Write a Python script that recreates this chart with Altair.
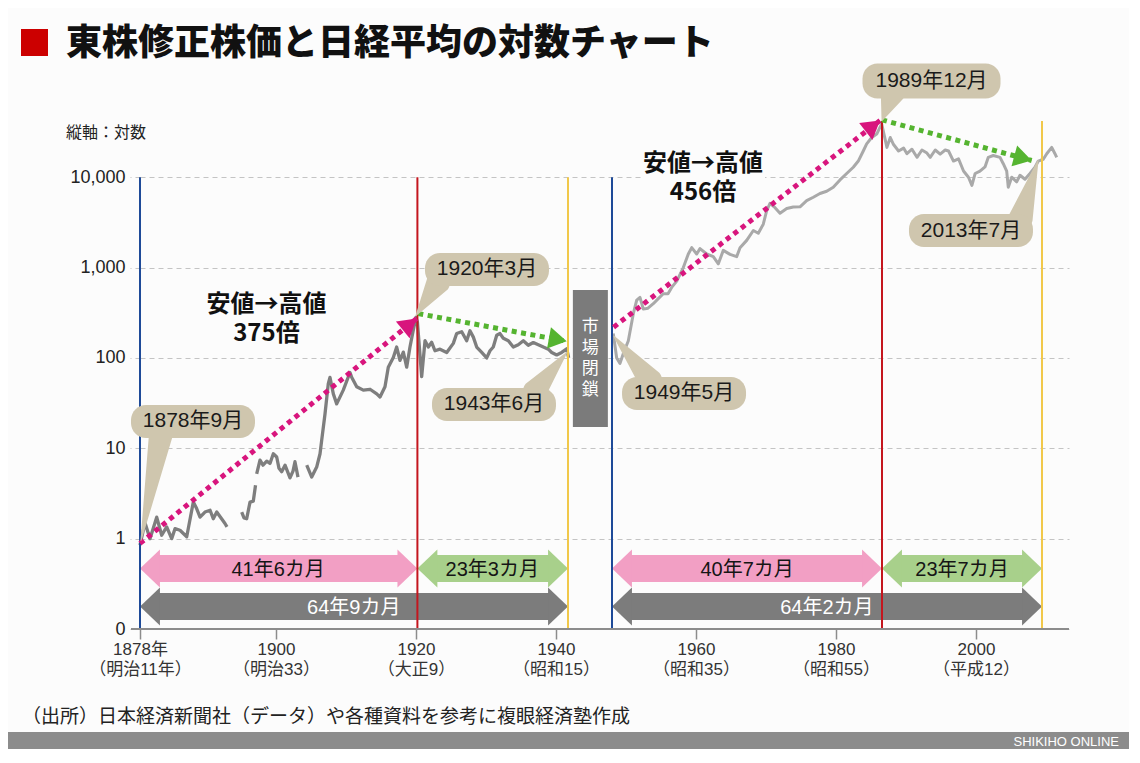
import altair as alt
import pandas as pd

FONT = "Noto Sans CJK JP"
MIX = "Liberation Sans, Noto Sans CJK JP"
BG = "#fcfcfc"

TITLE = "東株修正株価と日経平均の対数チャート"
AXIS_NOTE = "縦軸：対数"
SOURCE = "（出所）日本経済新聞社（データ）や各種資料を参考に複眼経済塾作成"
BRAND = "SHIKIHO ONLINE"

# non-uniform time axis of the original graphic (year -> plot px)
X_ANCHOR_YEARS = [1878.75, 1900, 1940, 1943.5, 1949.4, 1960, 1980, 1989.9, 2000, 2013.5, 2016]
X_ANCHOR_PX = [0, 136, 416, 428, 472, 556, 696, 742, 836, 902, 929]

Y_TICKS = [0.1, 1, 10, 100, 1000, 10000]
X_TICKS = [1878.75, 1900, 1920, 1940, 1960, 1980, 2000]
X_LAB1 = ["1878年", "1900", "1920", "1940", "1960", "1980", "2000"]
X_LAB2 = ["（明治11年）", "（明治33）", "（大正9）", "（昭和15）", "（昭和35）", "（昭和55）", "（平成12）"]

# ---- 東株修正株価 (prewar), segments separated by data gaps ----
PRE_YEARS = [
    1878.75, 1879.53, 1880.31, 1881.36, 1882.14, 1882.92, 1883.7, 1884.22, 1885.0, 1886.05,
    1887.08, 1887.6, 1888.13, 1888.9, 1889.7, 1890.2, 1890.74, 1891.5, 1892.03, 1892.34,
    1894.64, 1895.0, 1895.42, 1895.94, 1896.45, 1896.8,
    1896.98, 1897.5, 1897.97, 1898.55, 1899.06, 1899.58, 1900.1, 1900.43, 1900.81, 1901.29,
    1902.0, 1902.43, 1902.71, 1903.14,
    1904.39, 1905.1, 1905.81, 1906.29, 1906.53, 1907.0, 1907.47, 1907.71, 1908.19, 1908.67,
    1909.61, 1910.57, 1910.81, 1911.53, 1912.47, 1913.43, 1914.39, 1914.86, 1915.57, 1916.04,
    1916.76, 1917.24, 1917.71, 1918.19, 1918.67, 1919.14, 1919.61, 1920.0, 1920.2, 1920.81,
    1921.29, 1921.76, 1922.24, 1922.71, 1923.43, 1924.39, 1925.33, 1925.81, 1926.53, 1927.24,
    1927.71, 1928.19, 1928.67, 1929.39, 1930.1, 1930.57, 1931.04, 1931.53, 1932.0, 1932.47,
    1933.19, 1933.9, 1934.61, 1935.33, 1936.04, 1936.76, 1937.47, 1938.19, 1938.9, 1939.39,
    1940.2, 1941.66, 1943.12, 1943.59,
]
PRE_VALUES = [
    0.85, 1.5, 1.0, 1.73, 1.09, 1.35, 1.0, 1.29, 1.24, 1.05,
    2.54, 2.15, 1.73, 1.97, 2.06, 1.66, 1.97, 1.66, 1.47, 1.35,
    1.97, 1.7, 1.66, 2.54, 2.6, 3.9,
    5.2, 7.4, 6.5, 7.2, 6.8, 8.7, 8.0, 6.0, 5.5, 6.5,
    4.7, 5.6, 7.1, 4.8,
    6.5, 4.8, 6.2, 8.7, 12.3, 24, 52, 61, 40, 31,
    44, 69, 61, 48, 44, 45, 40, 37, 48, 79,
    101, 132, 94, 116, 79, 132, 203, 280, 250, 62,
    155, 132, 149, 120, 125, 115, 145, 186, 195, 155,
    200, 170, 132, 115, 100, 120, 132, 178, 186, 165,
    155, 132, 140, 155, 138, 148, 140, 132, 125, 115,
    108, 115, 126, 100,
]
PRE_SEG = [1] * 20 + [2] * 6 + [3] * 14 + [4] * 64

# ---- 日経平均 (postwar) ----
POST_YEARS = [
    1949.56, 1949.99, 1950.41, 1950.83, 1951.46, 1952.09, 1952.52, 1952.93, 1953.35, 1953.94,
    1954.61, 1955.21, 1955.87, 1956.47, 1956.93, 1957.57, 1958.4, 1959.03, 1959.46, 1960.1,
    1960.57, 1961.53, 1962.47, 1963.19, 1963.9, 1964.86, 1965.81, 1966.29, 1967.24, 1968.19,
    1968.9, 1969.61, 1970.1, 1970.57, 1971.29, 1972.0, 1972.96, 1973.9, 1974.86, 1975.81,
    1976.76, 1977.71, 1978.67, 1979.61, 1980.86, 1982.3, 1983.72, 1984.8, 1985.87, 1986.6,
    1987.68, 1988.76, 1989.83, 1990.43, 1990.79, 1991.14, 1991.68, 1992.22, 1992.58, 1993.12,
    1993.66, 1994.19, 1994.73, 1995.08, 1995.62, 1996.15, 1996.69, 1997.05, 1997.58, 1998.12,
    1998.66, 1999.19, 1999.56, 1999.91, 2000.82, 2001.84, 2002.52, 2003.54, 2004.91, 2005.58,
    2006.28, 2006.6, 2007.3, 2008.32, 2009.0, 2010.02, 2011.04, 2012.07, 2012.74, 2013.62,
    2013.94, 2014.4, 2014.7, 2014.86,
]
POST_VALUES = [
    186, 100, 87, 112, 155, 309, 437, 468, 347, 355,
    398, 450, 513, 513, 603, 708, 1000, 1413, 1660, 1413,
    1620, 1413, 1320, 1100, 1550, 1400, 1320, 1660, 2000, 2570,
    2400, 3020, 4270, 5130, 4600, 4000, 4500, 4680, 4700, 5500,
    6000, 6600, 7000, 7760, 9330, 11000, 12900, 15100, 19500, 23400,
    27500, 30000, 38900, 21400, 27500, 23000, 19500, 21000, 18200, 20400,
    16600, 20000, 18500, 16600, 20000, 18000, 20000, 19500, 15100, 16000,
    11700, 10000, 8130, 11000, 11700, 13000, 16600, 17400, 16600, 14100,
    11700, 7760, 10000, 8900, 10500, 9500, 11000, 12900, 15100, 15800,
    18200, 21400, 18200, 16600,
]

# ---- event (vertical) lines ----
EV_YEARS = [1878.75, 1920.2, 1943.5, 1949.4, 1989.9, 2013.5]
EV_KIND = ["low", "high", "end", "low", "high", "end"]
EV_TOP = [10000, 10000, 10000, 10000, 42000, 42000]

# ---- duration arrows ----
DUR_START = [1878.75, 1920.2, 1878.75, 1949.4, 1989.9, 1949.4]
DUR_END = [1920.2, 1943.5, 1943.5, 1989.9, 2013.5, 2013.5]
DUR_MID = [1900.3, 1930.9, 1911.1, 1967.3, 1998.5, 1978.7]
DUR_KIND = ["rise", "fall", "total", "rise", "fall", "total"]
DUR_LABEL = ["41年6カ月", "23年3カ月", "64年9カ月", "40年7カ月", "23年7カ月", "64年2カ月"]

# ---- dotted trend arrows ----
TR_ID = ["a", "b", "c", "d"]
TR_KIND = ["rise", "fall", "rise", "fall"]
TR_Y0 = [1878.75, 1920.33, 1949.6, 1989.9]
TR_V0 = [0.887, 309, 219, 43150]
TR_Y1 = [1920.1, 1943.12, 1989.47, 2011.39]
TR_V1 = [273, 153, 42400, 15300]

# ---- callouts ----
CL_LABEL = ["1878年9月", "1920年3月", "1943年6月", "1949年5月", "1989年12月", "2013年7月"]
CL_BOX_YEAR = [1887.03, 1930.14, 1931.14, 1958.49, 1995.22, 1999.46]
CL_BOX_VAL = [19.8, 953, 30.6, 40.5, 115900, 2572]
CL_BASE_YEAR = [1882.03, 1923.14, 1937.0, 1954.2, 1990.97, 2009.2]
CL_BASE_VAL = [14.6, 684, 42.6, 56.4, 82200, 3581]
CL_TIP_YEAR = [1878.91, 1920.0, 1943.2, 1949.65, 1989.9, 2012.68]
CL_TIP_VAL = [0.958, 295, 115.6, 173, 42300, 15300]

# ---- big annotations ----
BIG_LINE1 = ["安値→高値", "安値→高値"]
BIG_LINE2 = ["375倍", "456倍"]
BIG_YEAR = [1898.5, 1961.0]
BIG_VAL = [267, 9680]

CLOSED_CHARS = ["市", "場", "閉", "鎖"]
CLOSED_YEAR = [1946.5]
CLOSED_VAL = [98.5]

# ------------------------------------------------------------------
W, H = 929, 506
PAD = {"left": 132, "top": 115, "right": 60, "bottom": 120}

parts = []
for v, a, b in zip(X_TICKS, X_LAB1, X_LAB2):
    parts.append(f"abs(datum.value - {v}) < 0.01 ? ['{a}', '{b}'] : ")
X_LABEL_EXPR = "".join(parts) + "''"

XS = alt.Scale(domain=X_ANCHOR_YEARS, range=X_ANCHOR_PX, nice=False, zero=False)
YS = alt.Scale(type="log", domain=[0.1, 10 ** 4.6], nice=False)

X_AX = alt.Axis(values=X_TICKS, labelExpr=X_LABEL_EXPR, grid=False, domain=False,
                tickSize=10, tickColor="#8c8c8c", tickWidth=1.5, labelFont=MIX,
                labelFontSize=17, labelColor="#333333", labelLineHeight=20,
                labelPadding=2, labelBaseline="top", labelOverlap=False,
                labelFlush=False, title=None)
Y_AX = alt.Axis(values=Y_TICKS, labelExpr="datum.value < 0.5 ? '0' : format(datum.value, ',')",
                grid=True, gridColor="#c4c4c4", gridDash=[5, 4], gridWidth=1, domain=False,
                tickSize=10, tickColor="#c4c4c4", tickDash=[5, 4], labelFont=MIX,
                labelFontSize=18, labelColor="#222222", labelPadding=5, title=None)


def X(f):
    return alt.X(f"{f}:Q", scale=XS, axis=X_AX)


def Y(f):
    return alt.Y(f"{f}:Q", scale=YS, axis=Y_AX)


DUR_COL = alt.Scale(domain=["rise", "fall", "total"], range=["#f29fc4", "#a8d08b", "#7c7c7c"])
DUR_TXT = alt.Scale(domain=["rise", "fall", "total"], range=["#151515", "#151515", "#ffffff"])
TR_COL = alt.Scale(domain=["rise", "fall"], range=["#d8157d", "#55b430"])
EV_COL = alt.Scale(domain=["low", "high", "end"], range=["#1e4a98", "#c4161e", "#f1c84a"])
CALLOUT = "#cfc6ae"

pre = pd.DataFrame({"year": PRE_YEARS, "value": PRE_VALUES, "seg": PRE_SEG})
post = pd.DataFrame({"year": POST_YEARS, "value": POST_VALUES})
ev = pd.DataFrame({"year": EV_YEARS, "kind": EV_KIND, "top": EV_TOP, "bottom": [0.1] * len(EV_YEARS)})
dur = pd.DataFrame({"start": DUR_START, "end": DUR_END, "mid": DUR_MID, "kind": DUR_KIND, "label": DUR_LABEL})
tr_long = pd.DataFrame({
    "id": TR_ID + TR_ID, "kind": TR_KIND + TR_KIND, "k": [0] * 4 + [1] * 4,
    "year": TR_Y0 + TR_Y1, "value": TR_V0 + TR_V1,
})
tr_end = pd.DataFrame({"id": TR_ID, "kind": TR_KIND, "year": TR_Y1, "value": TR_V1})
cl_box = pd.DataFrame({"label": CL_LABEL, "year": CL_BOX_YEAR, "value": CL_BOX_VAL})
cl_ptr = pd.DataFrame({
    "id": list(range(6)) * 2, "k": [0] * 6 + [1] * 6,
    "year": CL_BASE_YEAR + CL_TIP_YEAR, "value": CL_BASE_VAL + CL_TIP_VAL,
})
big = pd.DataFrame({"l1": BIG_LINE1, "l2": BIG_LINE2, "year": BIG_YEAR, "value": BIG_VAL})
closed = pd.DataFrame({"year": CLOSED_YEAR, "value": CLOSED_VAL,
                       **{f"c{i}": [c] for i, c in enumerate(CLOSED_CHARS)}})

layers = []

# white patches behind the big annotations (hide the gridline)
layers.append(alt.Chart(big).mark_rect(width=124, height=58, color=BG).encode(x=X("year"), y=Y("value")))

# index lines
layers.append(alt.Chart(pre).mark_line(color="#7e7e7e", strokeWidth=3.3, strokeJoin="round").encode(
    x=X("year"), y=Y("value"), detail="seg:N"))
layers.append(alt.Chart(post).mark_line(color="#a9a9a9", strokeWidth=3, strokeJoin="round").encode(
    x=X("year"), y=Y("value")))

# duration arrows
HEAD_L = "M 0 0 L 1.05 -1 L 1.05 1 Z"
HEAD_R = "M 0 0 L -1.05 -1 L -1.05 1 Z"
for upper, yc in [(True, 445.5), (False, 483.5)]:
    flt = "datum.kind != 'total'" if upper else "datum.kind == 'total'"
    base = alt.Chart(dur).transform_filter(flt)
    col = alt.Color("kind:N", scale=DUR_COL, legend=None)
    layers.append(base.mark_rect(xOffset=19, x2Offset=-19).encode(
        x=X("start"), x2="end:Q", y=alt.value(yc - 13.5), y2=alt.value(yc + 13.5), color=col))
    layers.append(base.mark_point(shape=HEAD_L, filled=True, size=1444, opacity=1, strokeWidth=0).encode(
        x=X("start"), y=alt.value(yc), color=col))
    layers.append(base.mark_point(shape=HEAD_R, filled=True, size=1444, opacity=1, strokeWidth=0).encode(
        x=X("end"), y=alt.value(yc), color=col))
    layers.append(base.mark_text(font=MIX, fontSize=20, baseline="middle").encode(
        x=X("mid"), y=alt.value(yc + 1), text="label:N",
        color=alt.Color("kind:N", scale=DUR_TXT, legend=None)))

# vertical event lines
layers.append(alt.Chart(ev).mark_rule(strokeWidth=2).encode(
    x=X("year"), y=Y("top"), y2="bottom:Q", color=alt.Color("kind:N", scale=EV_COL, legend=None)))

# solid baseline (0)
layers.append(alt.Chart(pd.DataFrame({"z": [0]})).mark_rule(color="#8c8c8c", strokeWidth=2).encode(
    x=alt.value(-9), x2=alt.value(W), y=alt.value(H)))

# dotted trend arrows
layers.append(alt.Chart(tr_long).mark_line(strokeWidth=5, strokeDash=[5, 4.5], strokeCap="butt").encode(
    x=X("year"), y=Y("value"), detail="id:N", order="k:Q",
    color=alt.Color("kind:N", scale=TR_COL, legend=None)))
TREND_HEAD = "M 0 0 L -1 -0.6 L -1 0.6 Z"
ANGLES = {"a": 320.75, "b": 10.46, "c": 322.2, "d": 15.18}
for tid, ang in ANGLES.items():
    layers.append(alt.Chart(tr_end).transform_filter(f"datum.id == '{tid}'").mark_point(
        shape=TREND_HEAD, filled=True, size=1296, opacity=1, strokeWidth=0, angle=ang).encode(
        x=X("year"), y=Y("value"), color=alt.Color("kind:N", scale=TR_COL, legend=None)))

# market closure box with vertical text
layers.append(alt.Chart(closed).mark_rect(width=35, height=137, color="#7b7b7b").encode(
    x=X("year"), y=Y("value")))
for i in range(len(CLOSED_CHARS)):
    layers.append(alt.Chart(closed).mark_text(font=FONT, fontSize=17, color="white", baseline="middle",
                                              dy=(i - 1.5) * 21).encode(
        x=X("year"), y=Y("value"), text=f"c{i}:N"))

# callouts
layers.append(alt.Chart(cl_ptr).mark_trail(color=CALLOUT).encode(
    x=X("year"), y=Y("value"), detail="id:N", order="k:Q",
    size=alt.Size("k:Q", scale=alt.Scale(domain=[0, 1], range=[24, 0]), legend=None)))
layers.append(alt.Chart(cl_box).transform_filter("length(datum.label) <= 7").mark_rect(
    width=124, height=33, cornerRadius=15, color=CALLOUT).encode(x=X("year"), y=Y("value")))
layers.append(alt.Chart(cl_box).transform_filter("length(datum.label) > 7").mark_rect(
    width=138, height=35, cornerRadius=15, color=CALLOUT).encode(x=X("year"), y=Y("value")))
layers.append(alt.Chart(cl_box).mark_text(font=MIX, fontSize=21, color="#1a1a1a", baseline="middle").encode(
    x=X("year"), y=Y("value"), text="label:N"))

# big texts (two lines)
for fld, dy in [("l1", -14.5), ("l2", 14.5)]:
    layers.append(alt.Chart(big).mark_text(font=FONT, fontSize=24, fontWeight="bold", color="#111111",
                                           baseline="middle", dy=dy).encode(
        x=X("year"), y=Y("value"), text=f"{fld}:N"))

# title, notes, footer
one = pd.DataFrame({"t": [TITLE], "n": [AXIS_NOTE], "s": [SOURCE], "b": [BRAND]})
layers.append(alt.Chart(one).mark_rect(color="#cc0000").encode(
    x=alt.value(-119), x2=alt.value(-92), y=alt.value(-94), y2=alt.value(-67)))
layers.append(alt.Chart(one).mark_text(font=FONT, fontSize=36, fontWeight=900, color="#111111",
                                       align="left", baseline="middle").encode(
    x=alt.value(-74), y=alt.value(-79), text="t:N"))
layers.append(alt.Chart(one).mark_text(font=FONT, fontSize=16, color="#222222",
                                       align="left", baseline="middle").encode(
    x=alt.value(-74), y=alt.value(10), text="n:N"))
layers.append(alt.Chart(one).mark_text(font=FONT, fontSize=19, color="#222222",
                                       align="left", baseline="middle").encode(
    x=alt.value(-118), y=alt.value(594), text="s:N"))
layers.append(alt.Chart(one).mark_rect(color="#8c8c8c").encode(
    x=alt.value(-132), x2=alt.value(W + PAD["right"]), y=alt.value(609), y2=alt.value(H + PAD["bottom"])))
layers.append(alt.Chart(one).mark_text(font="Liberation Sans Narrow, Liberation Sans", fontSize=13,
                                       color="white", align="right", baseline="middle").encode(
    x=alt.value(W + 50), y=alt.value(619), text="b:N"))

chart = alt.layer(*layers).resolve_scale(color="independent", size="independent").properties(
    width=W, height=H,
    autosize=alt.AutoSizeParams(type="none"),
    padding=PAD,
    background=BG,
).configure_view(stroke=None)

chart.save("out.html", embed_options={"renderer": "svg", "actions": False})
